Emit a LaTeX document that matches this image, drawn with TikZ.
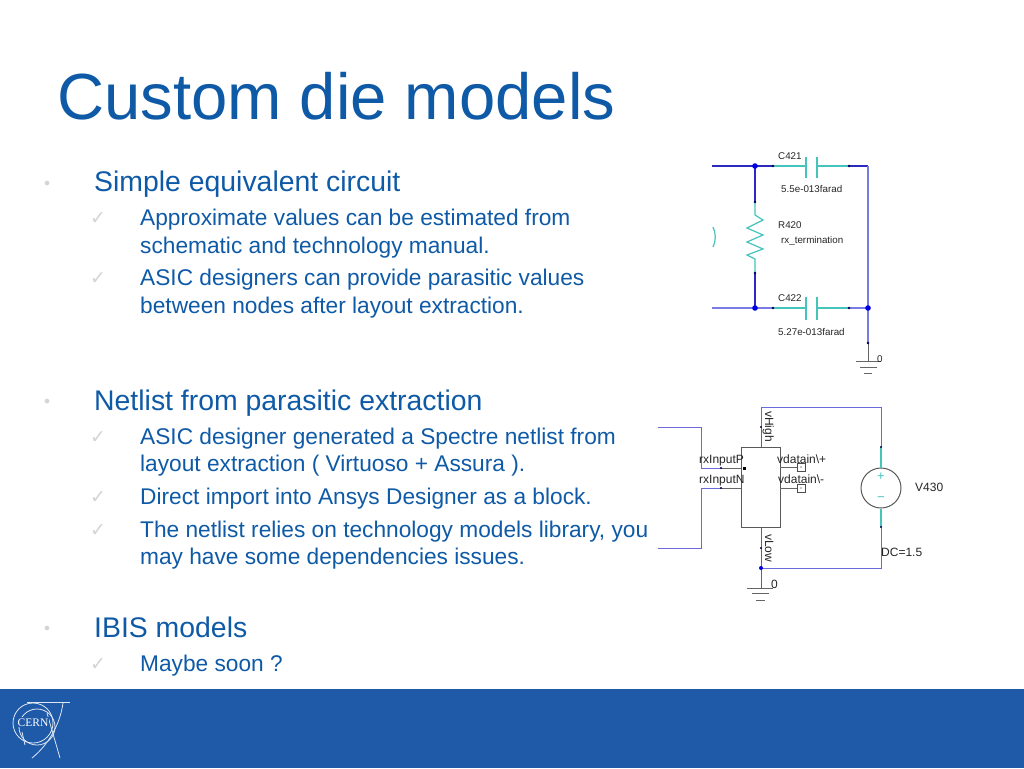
\documentclass[tikz,border=0pt]{standalone}
\usepackage{fontspec}
\setmainfont{Liberation Sans}
\newfontfamily\symfont{DejaVu Sans}
\newfontfamily\logofont{Liberation Serif}
\usetikzlibrary{arrows.meta, positioning}
\definecolor{slideblue}{HTML}{0F5AA6}
\definecolor{barblue}{HTML}{1E5AA8}
\definecolor{wireblue}{HTML}{2A2AC0}
\definecolor{wirelight}{HTML}{7A7AE4}
\definecolor{wirepale}{HTML}{6A6AD8}
\definecolor{partteal}{HTML}{45C4BC}
\definecolor{markgray}{HTML}{D4D4D4}
\tikzset{
  every node/.style={inner sep=0pt, anchor=base west},
  titletext/.style={text=slideblue, font=\fontsize{65.2}{66}\selectfont},
  headtext/.style={text=slideblue, font=\fontsize{28.4}{28}\selectfont},
  subtext/.style={text=slideblue, font=\fontsize{22.7}{24}\selectfont},
  bulletmark/.style={text=markgray, font=\symfont\fontsize{16}{16}\selectfont, anchor=base},
  tickmark/.style={text=markgray, font=\symfont\fontsize{19}{19}\selectfont, anchor=base},
  schem/.style={text=black!85, font=\fontsize{9.8}{10}\selectfont},
  block/.style={text=black!85, font=\fontsize{12}{12}\selectfont},
  lead/.style={draw=black!60, line width=1pt},
  wire/.style={draw=wireblue, line width=1.1pt},
  palewire/.style={draw=wirelight, line width=2.4pt},
  netwire/.style={draw=wirepale, line width=1pt},
  part/.style={draw=partteal, line width=1.2pt},
  pin/.style={fill=black!70!blue, draw=none},
  junction/.style={fill=blue!90!black, draw=none}
}
\begin{document}
\begin{tikzpicture}[x=1pt, y=-1pt]
\useasboundingbox (0,0) rectangle (1024,768);
\fill[white] (0,0) rectangle (1024,768);
\fill[barblue] (0,689) rectangle (1024,768);

% logo
\begin{scope}[white!85!barblue, line width=0.8pt]
    \draw (33,723) circle (20);
    \draw (37,727) circle (18);
    \draw (27,702) -- (70,702);
    \draw (63,703) .. controls (60,725) and (48,745) .. (32,758);
    \draw (47,713) -- (60,758);
    \draw (22,732) -- (25,745);
\end{scope}
\node[fill=barblue, text=white, font=\logofont\fontsize{11.5}{12}\selectfont, anchor=base, inner sep=1pt] (logotext) at (33,726) {CERN};

% title and list
\node[titletext] (title) at (57,119) {Custom die models};

\node[bulletmark] (b1) at (47,189) {•};
\node[headtext] (h1) at (94,191) {Simple equivalent circuit};
\node[tickmark] (t1) at (98,224) {✓};
\node[subtext] (s1a) at (140,225) {Approximate values can be estimated from};
\node[subtext] (s1b) at (140,253) {schematic and technology manual.};
\node[tickmark] (t2) at (98,284) {✓};
\node[subtext] (s2a) at (140,285) {ASIC designers can provide parasitic values};
\node[subtext] (s2b) at (140,313) {between nodes after layout extraction.};

\node[bulletmark] (b2) at (47,407) {•};
\node[headtext] (h2) at (94,410) {Netlist from parasitic extraction};
\node[tickmark] (t3) at (98,443) {✓};
\node[subtext] (s3a) at (140,444) {ASIC designer generated a Spectre netlist from};
\node[subtext] (s3b) at (140,471) {layout extraction ( Virtuoso + Assura ).};
\node[tickmark] (t4) at (98,503) {✓};
\node[subtext] (s4a) at (140,504) {Direct import into Ansys Designer as a block.};
\node[tickmark] (t5) at (98,536) {✓};
\node[subtext] (s5a) at (140,537) {The netlist relies on technology models library, you};
\node[subtext] (s5b) at (140,564) {may have some dependencies issues.};

\node[bulletmark] (b3) at (47,634) {•};
\node[headtext] (h3) at (94,637) {IBIS models};
\node[tickmark] (t6) at (98,670) {✓};
\node[subtext] (s6a) at (140,671) {Maybe soon ?};

% termination network
\coordinate (JA) at (755,166);
\coordinate (JB) at (755,308);
\coordinate (JC) at (868,308);
\coordinate (TR) at (868,166);
\coordinate (GA) at (868,343);
\coordinate (GB) at (868,361);

\draw[wire] (712,166) -- (JA) -- (773,166);
\draw[wire] (849,166) -- (TR);
\draw[palewire] (TR) -- (JC) -- (GA);
\draw[palewire] (712,308) -- (JB) -- (773,308);
\draw[palewire] (849,308) -- (JC);
\draw[wire] (JA) -- (755,202);
\draw[wire] (755,273) -- (JB);
\draw[part] (755,202) -- (755,215) -- (763,220) -- (747,228) -- (763,235) -- (747,242) -- (763,249) -- (747,255) -- (755,259) -- (755,273);
\draw[part] (773,166) -- (806,166) (806,157) -- (806,178) (817,157) -- (817,178) (817,166) -- (849,166);
\draw[part] (773,308) -- (806,308) (806,297) -- (806,320) (817,297) -- (817,320) (817,308) -- (849,308);
\draw[part] (713,227) .. controls (716,233) and (716,241) .. (713,247);
\draw[lead] (GA) -- (GB);
\draw[lead] (856,361) -- (881,361);
\draw[lead] (860,367) -- (877,367);
\draw[lead] (864,373) -- (872,373);
\fill[junction] (JA) circle (2.8);
\fill[junction] (JB) circle (2.8);
\fill[junction] (JC) circle (2.8);
\fill[pin] (755,202) circle (1.4);
\fill[pin] (755,273) circle (1.4);
\fill[pin] (773,166) circle (1.4);
\fill[pin] (849,166) circle (1.4);
\fill[pin] (773,308) circle (1.4);
\fill[pin] (849,308) circle (1.4);
\fill[pin] (GA) circle (1.4);

\node[schem] (c421) at (778,159) {C421};
\node[schem] (c421v) at (781,192) {5.5e-013farad};
\node[schem] (r420) at (778,228) {R420};
\node[schem] (r420v) at (781,243) {rx\_termination};
\node[schem] (c422) at (778,301) {C422};
\node[schem] (c422v) at (778,335) {5.27e-013farad};
\node[schem] (gnda) at (877,362) {0};

% netlist block
\node[draw=black!65, line width=1pt, minimum width=39pt, minimum height=80pt, anchor=center] (blk) at (760.5,487) {};
\coordinate (TL) at (761,407);
\coordinate (TS) at (881,407);
\coordinate (BL) at (761,568);
\coordinate (BS) at (881,568);
\node[draw=black!65, line width=1pt, circle, minimum size=40pt, anchor=center] (src) at (881,488) {};

\draw[netwire] (658,427) -- (701,427) -- (701,468) -- (721,468);
\draw[netwire] (658,548) -- (701,548) -- (701,488) -- (721,488);
\draw[lead] (721,468) -- (741,468);
\draw[lead] (721,488) -- (741,488);
\draw[lead] (blk.north -| TL) -- (761,427);
\draw[netwire] (761,427) -- (TL) -- (TS) -- (881,447);
\draw[part] (881,447) -- (src.north);
\draw[part] (src.south) -- (881,527);
\draw[netwire] (881,527) -- (BS) -- (BL);
\draw[lead] (blk.south -| BL) -- (BL) -- (761,588);
\draw[lead] (747,588) -- (773,588);
\draw[lead] (752,593) -- (769,593);
\draw[lead] (756,600) -- (765,600);
\draw[lead] (780,467) -- (797,467);
\draw[lead] (780,488) -- (797,488);
\draw[black!70, line width=0.7pt] (797,463) rectangle (805,471);
\draw[black!70, line width=0.7pt] (797,484) rectangle (805,492);
\fill[black] (742.5,466.5) rectangle (745.5,469.5);
\fill[pin] (761,427) circle (1.2);
\fill[pin] (761,548) circle (1.2);
\fill[pin] (721,468) circle (1.2);
\fill[pin] (721,488) circle (1.2);
\fill[pin] (881,447) circle (1.2);
\fill[pin] (881,527) circle (1.2);
\fill[pin] (801,467) circle (0.6);
\fill[pin] (801,488) circle (0.6);
\fill[junction] (BL) circle (2);

\node[block] (inp) at (699,463) {rxInputP};
\node[block] (inn) at (699,483) {rxInputN};
\node[block] (outp) at (777,463) {vdatain\textbackslash+};
\node[block] (outn) at (778,483) {vdatain\textbackslash-};
\node[block, rotate=-90] (vhigh) at (765,411) {vHigh};
\node[block, rotate=-90] (vlow) at (765,534) {vLow};
\node[block] (v430) at (915,491) {V430};
\node[block] (dc) at (881,556) {DC=1.5};
\node[block] (gndb) at (771,588) {0};
\node[text=partteal, font=\fontsize{13}{13}\selectfont, anchor=center] (plus) at (881,477) {+};
\node[text=partteal, font=\fontsize{13}{13}\selectfont, anchor=center] (minus) at (881,499) {−};
\end{tikzpicture}
\end{document}
